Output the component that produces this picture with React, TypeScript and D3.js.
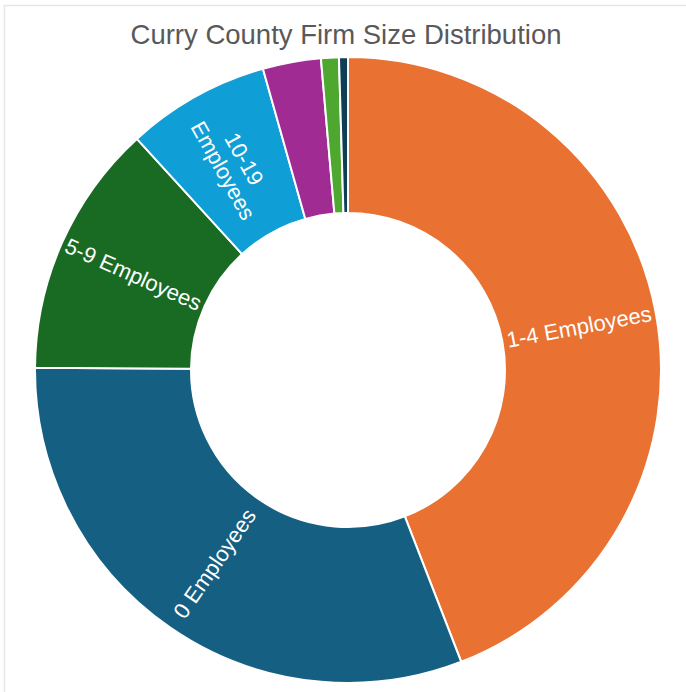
import React from "react";
import * as d3 from "d3";

const title = "Curry County Firm Size Distribution";
const categories = [
  "1-4 Employees",
  "0 Employees",
  "5-9 Employees",
  "10-19 Employees",
  "20-49 Employees",
  "50-99 Employees",
  "100+ Employees",
];
const labelLines = [
  ["1-4 Employees"],
  ["0 Employees"],
  ["5-9 Employees"],
  ["10-19", "Employees"],
  [],
  [],
  [],
];
const values = [44.1, 31.0, 13.1, 7.4, 3.0, 0.92, 0.46];
const colors = ["#E97132", "#156082", "#196B24", "#0F9ED5", "#A02B93", "#4EA72E", "#0F3E57"];

const W = 686;
const H = 692;
const cx = 348;
const cy = 370;
const outerR = 313;
const innerR = 157;

export default function App() {
  const pie = d3
    .pie<number>()
    .sort(null)
    .startAngle(0)
    .endAngle(2 * Math.PI)(values);
  const arc = d3.arc<d3.PieArcDatum<number>>().innerRadius(innerR).outerRadius(outerR);
  const midR = (innerR + outerR) / 2;

  return (
    <svg
      width={W}
      height={H}
      style={{ position: "absolute", left: 0, top: 0, background: "#fff" }}
      fontFamily="'Liberation Sans', Arial, sans-serif"
    >
      <rect x={4.5} y={5.5} width={W + 20} height={H + 20} fill="none" stroke="#e6e6e6" strokeWidth={1.5} />
      <text x={346} y={44} textAnchor="middle" fontSize={27.5} fill="#595959">
        {title}
      </text>
      <g transform={`translate(${cx},${cy})`}>
        {pie.map((d, i) => (
          <path key={categories[i]} d={arc(d) || ""} fill={colors[i]} stroke="#fff" strokeWidth={2} />
        ))}
        {pie.map((d, i) => {
          const lines = labelLines[i];
          if (!lines.length) return null;
          const mid = (d.startAngle + d.endAngle) / 2;
          const x = midR * Math.sin(mid);
          const y = -midR * Math.cos(mid);
          let rot = (mid * 180) / Math.PI - 90;
          if (rot > 90) rot -= 180;
          if (rot < -90) rot += 180;
          const n = lines.length;
          return (
            <text
              key={"l" + i}
              transform={`translate(${x},${y}) rotate(${rot})`}
              textAnchor="middle"
              fontSize={22}
              fill="#fff"
            >
              {lines.map((t, j) => (
                <tspan key={j} x={0} y={(j - (n - 1) / 2) * 24} dy="0.35em">
                  {t}
                </tspan>
              ))}
            </text>
          );
        })}
      </g>
    </svg>
  );
}
